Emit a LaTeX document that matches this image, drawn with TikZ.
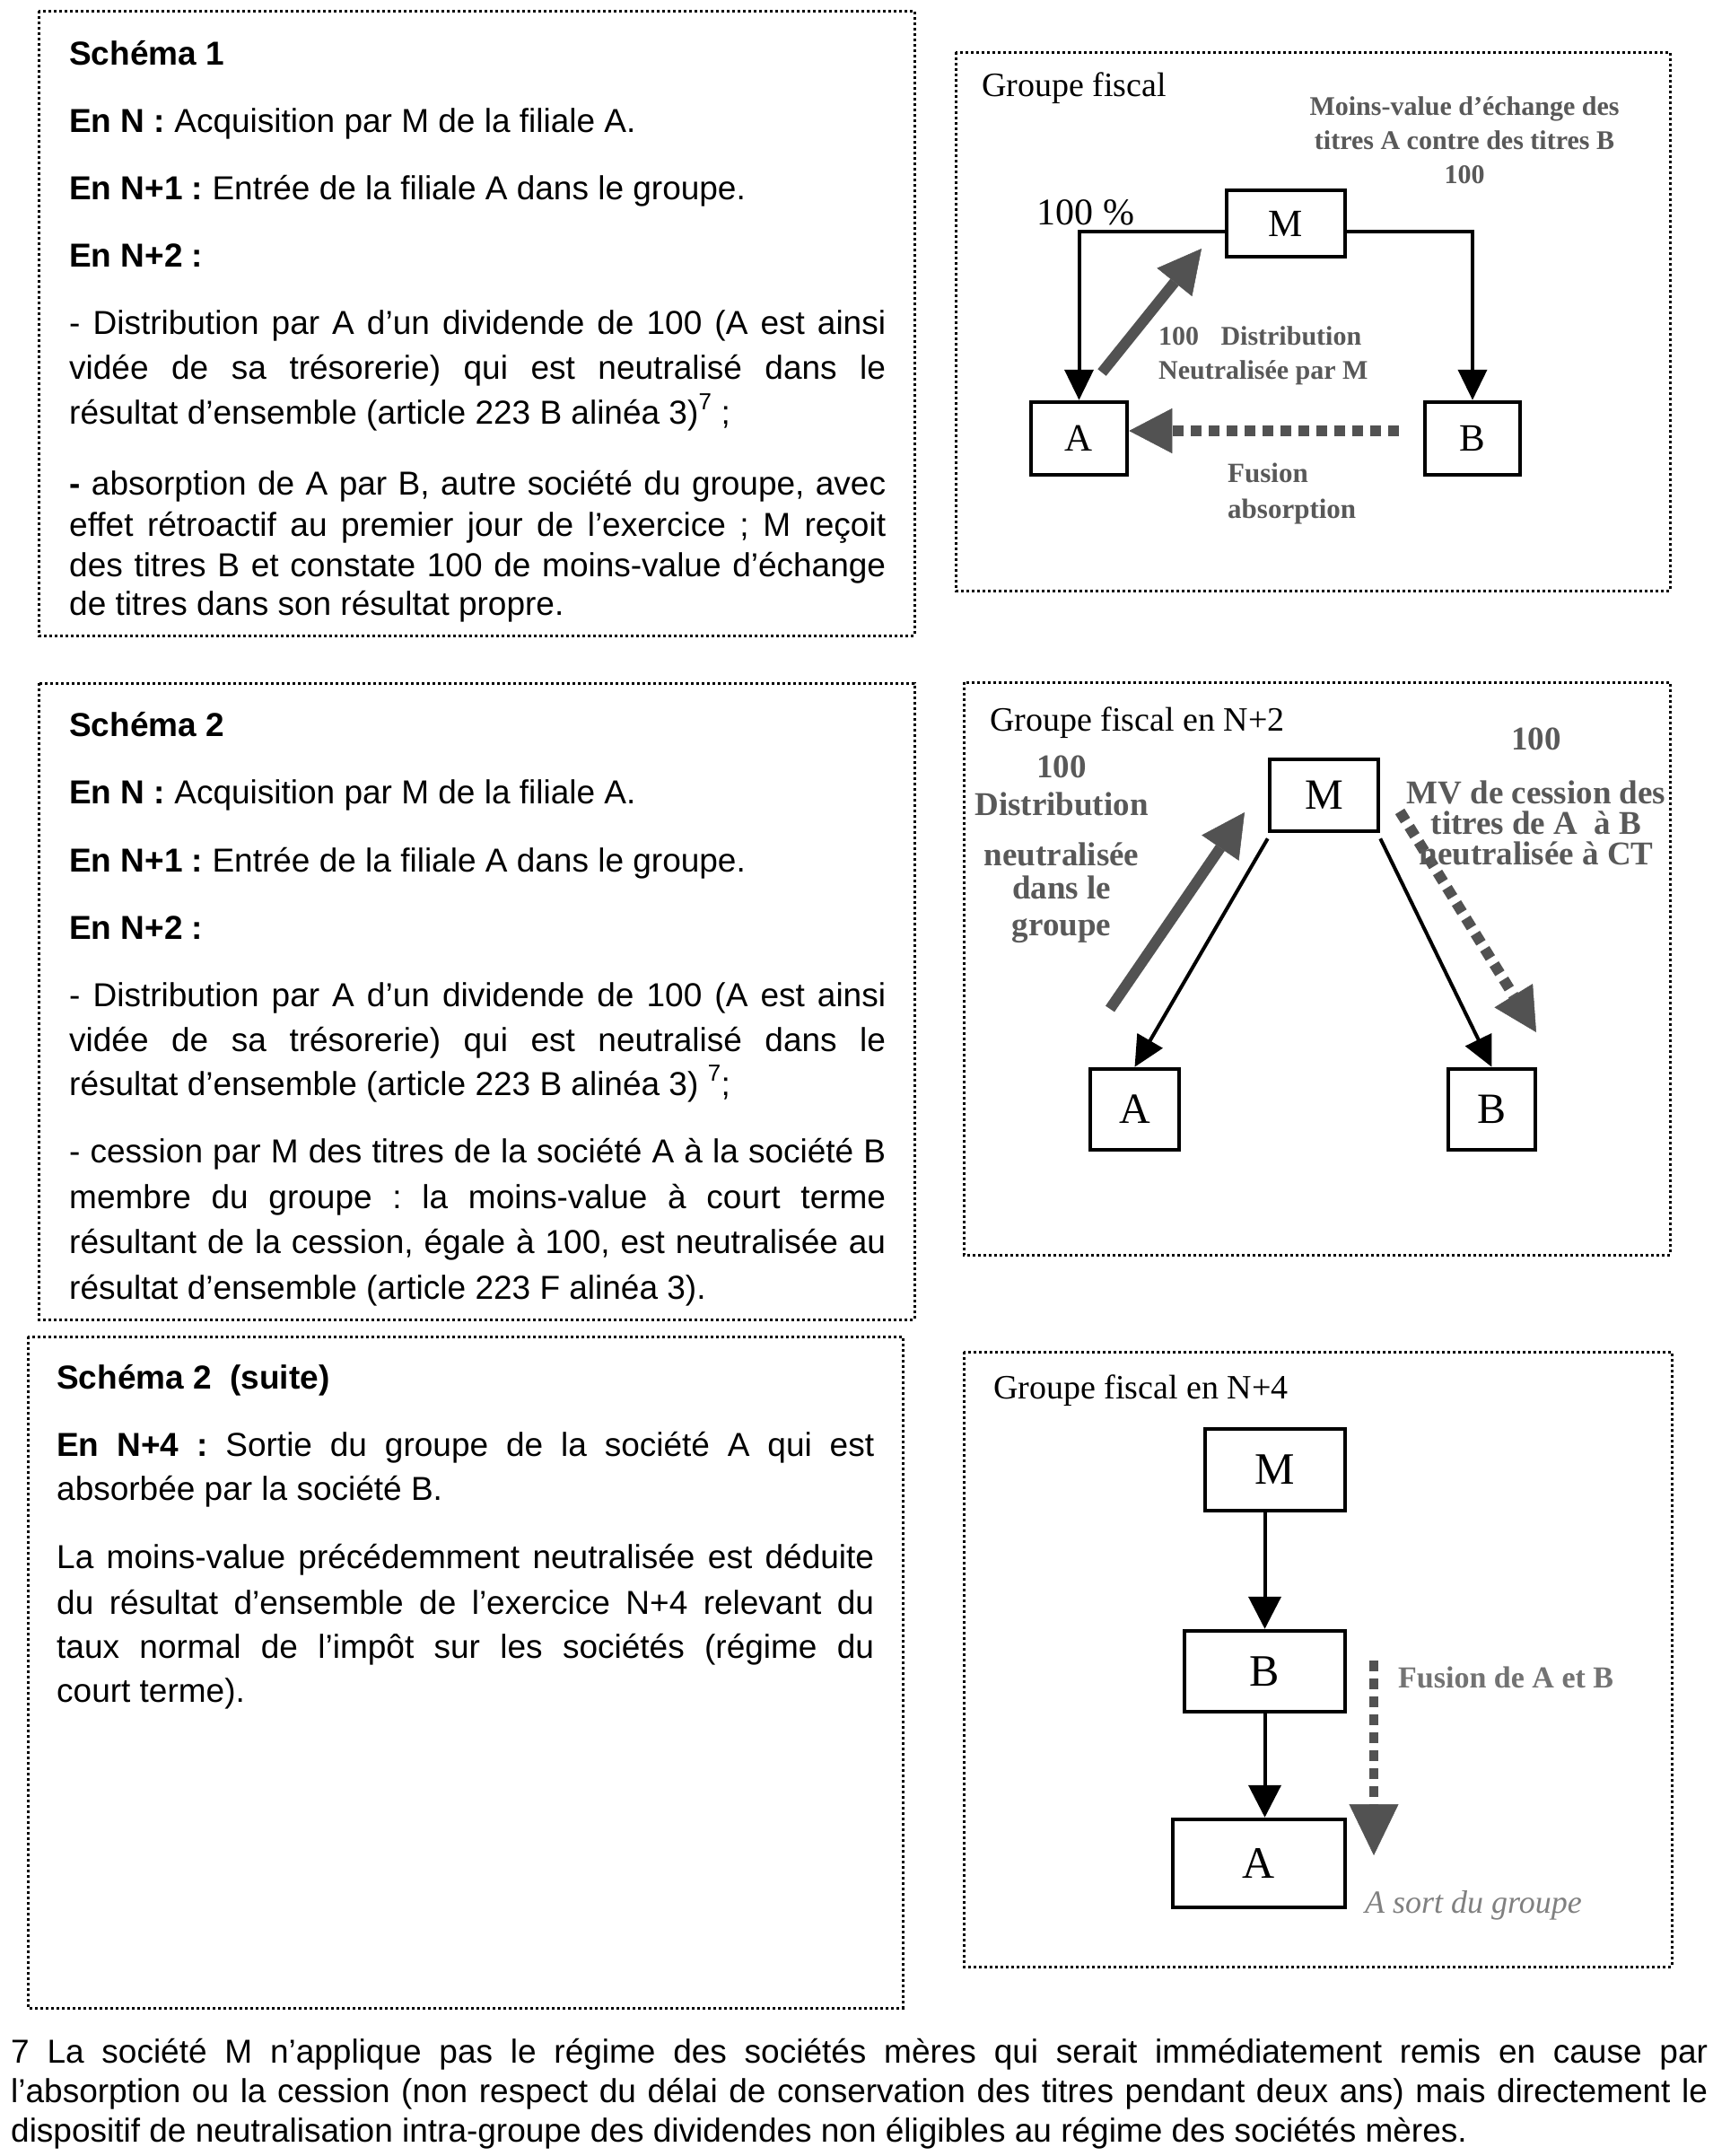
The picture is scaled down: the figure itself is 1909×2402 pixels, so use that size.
\documentclass[tikz,border=0pt]{standalone}
\usepackage{fontspec}
\setmainfont{Liberation Sans}
\newfontfamily\tnr{Liberation Serif}
\usetikzlibrary{arrows.meta}
\newcommand\JL[2]{\hbox to #1{#2}}
\frenchspacing
\begin{document}
\begin{tikzpicture}[x=1pt,y=-1pt,
  frame/.style={line width=3pt, dash pattern=on 3pt off 3pt},
  tl/.style={anchor=base west, inner sep=0pt, font=\fontsize{37}{44}\selectfont},
  ent/.style={draw, line width=4.5pt, inner sep=0pt},
  conn/.style={line width=4pt, -{Triangle[length=34pt,width=32pt]}},
  hatch/.style={line width=12pt, black!68, -{Triangle[length=48pt,width=50pt,line width=0.5pt]}},
  dhatch/.style={hatch, dash pattern=on 12pt off 8pt},
  lab/.style={inner sep=0pt, text=black!65, align=center},
  ttl/.style={anchor=west, inner sep=0pt, font=\tnr\fontsize{38}{38}\selectfont},
]
\useasboundingbox (0,0) rectangle (1909,2402);
\fill[white] (0,0) rectangle (1909,2402);

% ---------- frames
\draw[frame] (43,12) rectangle (1019,708);
\draw[frame] (1065,58) rectangle (1861,658);
\draw[frame] (43,761) rectangle (1019,1470);
\draw[frame] (1074,760) rectangle (1861,1398);
\draw[frame] (31,1489) rectangle (1006,2237);
\draw[frame] (1074,1506) rectangle (1863,2191);

% ---------- Schema 1 text
\node[tl] (s1t) at (77,72) {\bfseries Schéma 1};
\node[tl] (s1a) at (77,147) {\textbf{En N :} Acquisition par M de la filiale A.};
\node[tl] (s1b) at (77,222) {\textbf{En N+1 :} Entrée de la filiale A dans le groupe.};
\node[tl] (s1c) at (77,297) {\textbf{En N+2 :}};
\node[tl] (s1d) at (77,372) {\JL{910pt}{- Distribution par A d’un dividende de 100 (A est ainsi}};
\node[tl] (s1e) at (77,422) {\JL{910pt}{vidée de sa trésorerie) qui est neutralisé dans le}};
\node[tl] (s1f) at (77,472) {résultat d’ensemble (article 223 B alinéa 3)\raisebox{6pt}{\textsuperscript{7}} ;};
\node[tl] (s1g) at (77,551) {\JL{910pt}{\textbf{-} absorption de A par B, autre société du groupe, avec}};
\node[tl] (s1h) at (77,597) {\JL{910pt}{effet rétroactif au premier jour de l’exercice ; M reçoit}};
\node[tl] (s1i) at (77,642) {\JL{910pt}{des titres B et constate 100 de moins-value d’échange}};
\node[tl] (s1j) at (77,685) {de titres dans son résultat propre.};

% ---------- Schema 2 text
\node[tl] (s2t) at (77,820) {\bfseries Schéma 2};
\node[tl] (s2a) at (77,895) {\textbf{En N :} Acquisition par M de la filiale A.};
\node[tl] (s2b) at (77,971) {\textbf{En N+1 :} Entrée de la filiale A dans le groupe.};
\node[tl] (s2c) at (77,1046) {\textbf{En N+2 :}};
\node[tl] (s2d) at (77,1121) {\JL{910pt}{- Distribution par A d’un dividende de 100 (A est ainsi}};
\node[tl] (s2e) at (77,1171) {\JL{910pt}{vidée de sa trésorerie) qui est neutralisé dans le}};
\node[tl] (s2f) at (77,1220) {résultat d’ensemble (article 223 B alinéa 3) \raisebox{6pt}{\textsuperscript{7}};};
\node[tl] (s2g) at (77,1295) {\JL{910pt}{- cession par M des titres de la société A à la société B}};
\node[tl] (s2h) at (77,1346) {\JL{910pt}{membre du groupe : la moins-value à court terme}};
\node[tl] (s2i) at (77,1396) {\JL{910pt}{résultant de la cession, égale à 100, est neutralisée au}};
\node[tl] (s2j) at (77,1447) {résultat d’ensemble (article 223 F alinéa 3).};

% ---------- Schema 2 (suite) text
\node[tl] (s3t) at (63,1547) {\bfseries Schéma 2 \ (suite)};
\node[tl] (s3a) at (63,1622) {\JL{911pt}{\textbf{En N+4 :} Sortie du groupe de la société A qui est}};
\node[tl] (s3b) at (63,1671) {absorbée par la société B.};
\node[tl] (s3c) at (63,1747) {\JL{911pt}{La moins-value précédemment neutralisée est déduite}};
\node[tl] (s3d) at (63,1798) {\JL{911pt}{du résultat d’ensemble de l’exercice N+4 relevant du}};
\node[tl] (s3e) at (63,1847) {\JL{911pt}{taux normal de l’impôt sur les sociétés (régime du}};
\node[tl] (s3f) at (63,1896) {court terme).};

% ---------- footnote
\node[tl] (fn1) at (12,2298) {\JL{1891pt}{7 La société M n’applique pas le régime des sociétés mères qui serait immédiatement remis en cause par}};
\node[tl] (fn2) at (12,2342) {\JL{1891pt}{l’absorption ou la cession (non respect du délai de conservation des titres pendant deux ans) mais directement le}};
\node[tl] (fn3) at (12,2386) {dispositif de neutralisation intra-groupe des dividendes non éligibles au régime des sociétés mères.};

% ---------- Diagram 1
\node[ttl] (g1) at (1094,98) {Groupe fiscal};
\node[ent, minimum width=132pt, minimum height=74pt, font=\tnr\fontsize{43}{43}\selectfont] (M1) at (1433,249) {M};
\node[ent, minimum width=107pt, minimum height=81pt, font=\tnr\fontsize{43}{43}\selectfont] (A1) at (1202.5,488.5) {A};
\node[ent, minimum width=106pt, minimum height=81pt, font=\tnr\fontsize{43}{43}\selectfont] (B1) at (1641,488.5) {B};
\draw[conn] ([yshift=-9pt]M1.west) -| (A1.north);
\draw[conn] ([yshift=-9pt]M1.east) -| (B1.north);
\node[inner sep=0pt, font=\tnr\fontsize{42}{42}\selectfont] (p1) at (1210,237) {100 \%};
\node[lab, font=\tnr\bfseries\fontsize{30}{38}\selectfont] (l1a) at (1632,156) {Moins-value d’échange des\\titres A contre des titres B\\100};
\node[lab, anchor=west, align=left, font=\tnr\bfseries\fontsize{30}{38}\selectfont] (l1b) at (1291,396) {\hbox to 226pt{100\hfill Distribution}\\Neutralisée par M};
\node[lab, anchor=west, align=left, font=\tnr\bfseries\fontsize{31}{40}\selectfont] (l1c) at (1368,550) {Fusion\\absorption};
\coordinate (h1a) at (1228,415);
\coordinate (h1b) at (1339,277);
\draw[hatch] (h1a) -- (h1b);
\coordinate (d1a) at (1559,480);
\draw[dhatch] (d1a) -- (A1.east |- d1a);

% ---------- Diagram 2
\node[ttl] (g2) at (1103,805) {Groupe fiscal en N+2};
\node[ent, minimum width=121pt, minimum height=80pt, font=\tnr\fontsize{48}{48}\selectfont] (M2) at (1475.5,886) {M};
\node[ent, minimum width=99pt, minimum height=90pt, font=\tnr\fontsize{48}{48}\selectfont] (A2) at (1264.5,1236) {A};
\node[ent, minimum width=97pt, minimum height=90pt, font=\tnr\fontsize{48}{48}\selectfont] (B2) at (1662.5,1236) {B};
\draw[conn] ([yshift=-6pt]M2.south west) -- (A2.north);
\draw[conn] ([yshift=-6pt]M2.south east) -- (B2.north);
\coordinate (h2a) at (1237,1124);
\coordinate (h2b) at (1387,905);
\draw[hatch] (h2a) -- (h2b);
\coordinate (d2a) at (1560,904);
\coordinate (d2b) at (1712,1150);
\draw[dhatch] (d2a) -- (d2b);
\node[lab, font=\tnr\bfseries\fontsize{37}{40}\selectfont] (l2a) at (1183,946) {100\\[2pt]Distribution\\[16pt]neutralisée\\[-3pt]dans le\\[1pt]groupe};
\node[lab, font=\tnr\bfseries\fontsize{37}{34}\selectfont] (l2b) at (1712,887) {100\\[26pt]MV de cession des\\titres de A \ à B\\neutralisée à CT};

% ---------- Diagram 3
\node[ttl] (g3) at (1107,1549) {Groupe fiscal en N+4};
\node[ent, minimum width=156pt, minimum height=91pt, font=\tnr\fontsize{50}{50}\selectfont] (M3) at (1421,1637.5) {M};
\node[ent, minimum width=179pt, minimum height=90pt, font=\tnr\fontsize{50}{50}\selectfont] (B3) at (1409.5,1862) {B};
\node[ent, minimum width=192pt, minimum height=98pt, font=\tnr\fontsize{50}{50}\selectfont] (A3) at (1403,2076) {A};
\draw[conn, -{Triangle[length=36pt,width=36pt]}] (B3.north |- M3.south) -- (B3.north);
\draw[conn, -{Triangle[length=36pt,width=36pt]}] (B3.south) -- (B3.south |- A3.north);
\coordinate (d3a) at (1531,1850);
\coordinate (d3b) at (1531,2067);
\draw[dhatch, line width=10pt, -{Triangle[length=57pt,width=55pt,line width=0.5pt]}] (d3a) -- (d3b);
\node[lab, anchor=west, font=\tnr\bfseries\fontsize{34}{34}\selectfont, text=black!55] (l3a) at (1558,1869) {Fusion de A et B};
\node[lab, anchor=west, font=\tnr\itshape\fontsize{36}{36}\selectfont, text=black!50] (l3b) at (1521,2123) {A sort du groupe};
\end{tikzpicture}
\end{document}
